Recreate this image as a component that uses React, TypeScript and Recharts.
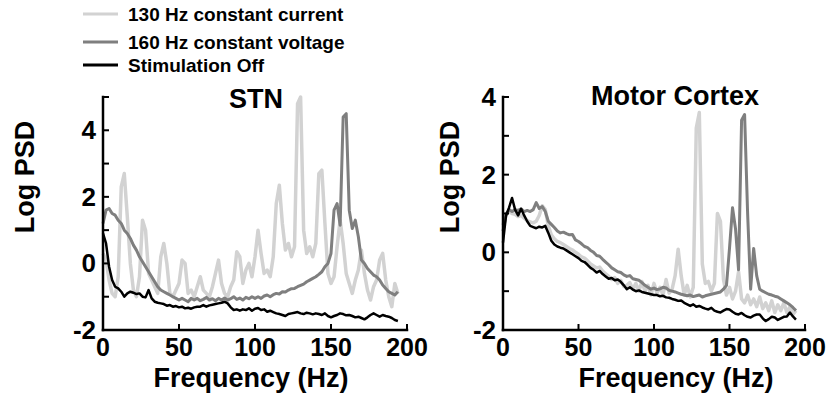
import React from 'react';
import { LineChart, Line, XAxis, YAxis } from 'recharts';

// frequency grid (Hz), shared by both panels
const FREQ = [
  0, 2, 4, 6, 8, 10, 12, 14, 16, 18,
  20, 22, 24, 26, 28, 30, 32, 34, 36, 38,
  40, 42, 44, 46, 48, 50, 52, 54, 56, 58,
  60, 62, 64, 66, 68, 70, 72, 74, 76, 78,
  80, 82, 84, 86, 88, 90, 92, 94, 96, 98,
  100, 102, 104, 106, 108, 110, 112, 114, 116, 118,
  120, 122, 124, 126, 128, 130, 132, 134, 136, 138,
  140, 142, 144, 146, 148, 150, 152, 154, 156, 158,
  160, 162, 164, 166, 168, 170, 172, 174, 176, 178,
  180, 182, 184, 186, 188, 190, 192, 194,
];

// STN log PSD
const STN_CC130 = [
  0.3, 0.1, -0.5, -0.9, -1.0, -0.4, 2.3, 2.7, 1.4, 0.0,
  -0.8, -1.0, -0.4, 1.3, 1.0, -0.3, -0.5, -0.7, -0.9, 0.2,
  0.6, 0.0, -0.9, -1.0, -0.8, -0.6, 0.1, 0.0, -0.9, -0.8,
  -1.0, -0.7, -0.4, -0.8, -0.9, -1.0, -0.7, -0.3, 0.1, -0.6,
  -0.9, -1.0, -0.7, -0.5, 0.35, 0.2, -0.6, -0.2, 0.0, -0.4,
  0.2, 1.0, 0.3, -0.3, -0.2, -0.4, 0.2, 1.8, 2.35, 1.2,
  0.4, 0.6, 0.2, 0.5, 4.8, 5.0, 1.0, 0.3, 0.5, 0.2,
  0.6, 2.7, 2.8, 1.2, -0.3, -0.6, -0.4, 0.5, 1.3, 0.6,
  -0.3, -0.6, -0.9, -0.5, -0.2, 0.4, -0.3, -0.8, -1.1, -0.7,
  -0.5, 0.1, 0.3, -0.5, -1.0, -1.3, -0.6, -0.9,
];
const STN_CV160 = [
  1.2, 1.6, 1.65, 1.5, 1.45, 1.3, 1.2, 1.0, 0.9, 0.75,
  0.55, 0.4, 0.2, 0.05, -0.1, -0.25, -0.4, -0.55, -0.7, -0.8,
  -0.85, -0.9, -0.95, -1.0, -1.05, -1.1, -1.05, -1.1, -1.15, -1.05,
  -1.1, -1.05, -1.12, -1.08, -1.02, -1.1, -1.06, -1.12, -1.05, -1.1,
  -1.04, -1.1, -1.06, -1.0, -1.08, -1.04, -1.1, -1.02, -1.06, -1.0,
  -1.05, -1.0, -1.05, -0.98, -0.95, -1.0, -0.94, -0.9, -0.92, -0.85,
  -0.86, -0.8, -0.76, -0.75, -0.7, -0.66, -0.62, -0.55, -0.5, -0.45,
  -0.4, -0.33, -0.25, -0.1, 0.0, 0.3, 1.6, 1.8, 1.15, 4.4,
  4.5, 1.6, 1.05, 1.3, 0.8, 0.1, 0.0, -0.15, -0.25, -0.35,
  -0.4, -0.5, -0.65, -0.75, -0.85, -0.9, -0.95, -0.85,
];
const STN_OFF = [
  0.9, 0.6, -0.1, -0.5, -0.7, -0.75, -0.85, -1.0, -0.9, -0.85,
  -0.88, -0.92, -0.9, -1.0, -1.02, -0.8, -1.05, -1.15, -1.18, -1.2,
  -1.22, -1.27, -1.25, -1.3, -1.28, -1.32, -1.3, -1.35, -1.33, -1.36,
  -1.32, -1.3, -1.3, -1.25, -1.3, -1.26, -1.24, -1.22, -1.2, -1.18,
  -1.15, -1.2, -1.32, -1.4, -1.38, -1.42, -1.38, -1.4, -1.35, -1.42,
  -1.36, -1.34, -1.4, -1.38, -1.45, -1.42, -1.46, -1.5, -1.52, -1.55,
  -1.58, -1.52, -1.5, -1.48, -1.46, -1.5, -1.52, -1.48, -1.5, -1.53,
  -1.5, -1.52, -1.55, -1.5, -1.58, -1.62, -1.58, -1.55, -1.5, -1.52,
  -1.56, -1.55, -1.58, -1.62, -1.6, -1.64, -1.68, -1.62, -1.55, -1.5,
  -1.55, -1.6, -1.55, -1.58, -1.6, -1.64, -1.7, -1.73,
];

// Motor cortex log PSD
const MC_CC130 = [
  0.7, 1.0, 1.05, 1.0, 0.98, 0.92, 0.95, 0.88, 0.82, 0.78,
  0.76, 0.8, 0.95, 1.2, 1.1, 0.68, 0.45, 0.35, 0.28, 0.25,
  0.2, 0.15, 0.1, 0.06, 0.0, -0.05, -0.12, -0.15, -0.22, -0.3,
  -0.35, -0.4, -0.38, -0.48, -0.55, -0.62, -0.7, -0.65, -0.8, -0.72,
  -0.88, -0.85, -0.78, -0.95, -0.8, -1.0, -0.75, -1.0, -0.85, -1.1,
  -0.8, -1.05, -0.9, -1.1, -0.7, -1.05, -0.95, -0.6, 0.08, -0.6,
  -1.1, -0.85, -1.15, -0.9, 3.2, 3.6, -0.3, -0.8, -0.75, -1.0,
  -0.8, 1.0, 0.8, -0.7, -1.1, -0.9, -1.2, -1.0, -0.5, -1.2,
  -1.3, -1.1, -1.35, -1.2, -1.4, -1.15, -1.45, -1.3, -1.5, -1.25,
  -1.55, -1.35, -1.5, -1.3, -1.55, -1.4, -1.6, -1.5,
];
const MC_CV160 = [
  0.55, 0.95, 1.1, 1.05, 1.1, 1.08, 1.12, 1.05, 1.08, 1.05,
  1.1, 1.28, 1.13, 1.18, 1.05, 0.8, 0.72, 0.64, 0.55, 0.5,
  0.52, 0.48, 0.45, 0.46, 0.32, 0.28, 0.22, 0.15, 0.12, 0.05,
  0.0, -0.08, -0.1, -0.18, -0.25, -0.32, -0.4, -0.45, -0.5, -0.52,
  -0.58, -0.62, -0.6, -0.68, -0.7, -0.72, -0.78, -0.85, -0.9, -0.95,
  -0.92, -0.96, -0.94, -0.9, -0.92, -0.98, -1.0, -1.02, -1.05, -1.08,
  -1.1, -1.12, -1.1, -1.14, -1.12, -1.1, -1.15, -1.12, -1.1, -1.08,
  -1.06, -1.04, -1.02, -0.95, -0.85, 0.1, 1.15, 0.6, -0.45, 3.4,
  3.55, 1.0, -0.95, 0.1, -0.6, -0.95, -1.0, -1.04, -1.08, -1.1,
  -1.13, -1.15, -1.2, -1.25, -1.3, -1.35, -1.42, -1.5,
];
const MC_OFF = [
  0.25, 0.95, 1.15, 1.4, 1.1, 0.95, 1.12, 0.95, 0.8, 0.68,
  0.65, 0.62, 0.66, 0.64, 0.68, 0.5, 0.3, 0.2, 0.15, 0.12,
  0.1, 0.05, 0.0, -0.05, -0.1, -0.15, -0.22, -0.25, -0.32, -0.4,
  -0.45, -0.52, -0.48, -0.56, -0.62, -0.68, -0.66, -0.72, -0.7, -0.76,
  -0.85, -0.95, -0.9, -0.96, -1.0, -0.98, -1.02, -1.04, -1.06, -1.08,
  -1.1, -1.1, -1.13, -1.12, -1.16, -1.17, -1.2, -1.22, -1.25, -1.24,
  -1.3, -1.34, -1.38, -1.34, -1.4, -1.38, -1.42, -1.45, -1.47, -1.43,
  -1.5, -1.53, -1.55, -1.5, -1.46, -1.47, -1.53, -1.58, -1.6, -1.56,
  -1.62, -1.66, -1.68, -1.63, -1.6, -1.6, -1.7, -1.77, -1.72, -1.66,
  -1.68, -1.74, -1.7, -1.66, -1.65, -1.55, -1.65, -1.73,
];

const X_TICKS = [0, 50, 100, 150, 200];
const STN_Y_TICKS = [-2, -1, 0, 1, 2, 3, 4, 5];
const STN_Y_LABELS = [-2, 0, 2, 4];
const MC_Y_TICKS = [-2, -1, 0, 1, 2, 3, 4];
const MC_Y_LABELS = [-2, 0, 2, 4];

const SERIES = [
  { key: 'cc', name: '130 Hz constant current', color: '#d2d2d2', width: 3.5 },
  { key: 'cv', name: '160 Hz constant voltage', color: '#7f7f7f', width: 3 },
  { key: 'off', name: 'Stimulation Off', color: '#000000', width: 2.5 },
];

const FONT = '"Liberation Sans", Arial, Helvetica, sans-serif';

const stnRows = FREQ.map((f, i) => ({ f, cc: STN_CC130[i], cv: STN_CV160[i], off: STN_OFF[i] }));
const mcRows = FREQ.map((f, i) => ({ f, cc: MC_CC130[i], cv: MC_CV160[i], off: MC_OFF[i] }));

const YTick = (props: any) => {
  const { x, y, payload, labelled } = props;
  return (
    <g>
      <line x1={x} x2={x + 6} y1={y} y2={y} stroke="#000" strokeWidth={2} />
      {labelled.includes(payload.value) && (
        <text x={x - 7} y={y + 9} textAnchor="end" fontSize={26} fontWeight="bold" fontFamily={FONT} fill="#000">
          {payload.value}
        </text>
      )}
    </g>
  );
};

const XTick = (props: any) => {
  const { x, y, payload } = props;
  return (
    <g>
      {payload.value !== 0 && <line x1={x} x2={x} y1={y} y2={y - 6} stroke="#000" strokeWidth={2} />}
      <text x={x} y={y + 26} textAnchor="middle" fontSize={25} fontWeight="bold" fontFamily={FONT} fill="#000">
        {payload.value}
      </text>
    </g>
  );
};

type PanelProps = {
  rows: any[];
  width: number;
  yAxisWidth: number;
  marginRight: number;
  yDomain: [number, number];
  yTicks: number[];
  yLabels: number[];
};

const axisLine = { stroke: '#000', strokeWidth: 2.5, strokeLinecap: 'square' as const };

const Panel = ({ rows, width, yAxisWidth, marginRight, yDomain, yTicks, yLabels }: PanelProps) => (
  <LineChart width={width} height={398} data={rows} margin={{ top: 97, right: marginRight, bottom: 0, left: 0 }}>
    <XAxis
      type="number"
      dataKey="f"
      domain={[0, 200]}
      ticks={X_TICKS}
      interval={0}
      height={68}
      axisLine={axisLine}
      tickLine={false}
      tickSize={0}
      tickMargin={0}
      tick={XTick}
    />
    <YAxis
      type="number"
      domain={yDomain}
      ticks={yTicks}
      interval={0}
      width={yAxisWidth}
      axisLine={axisLine}
      tickLine={false}
      tickSize={0}
      tickMargin={0}
      tick={(p: any) => <YTick {...p} labelled={yLabels} />}
    />
    {SERIES.map((s) => (
      <Line
        key={s.key}
        type="linear"
        dataKey={s.key}
        name={s.name}
        stroke={s.color}
        strokeWidth={s.width}
        strokeLinejoin="round"
        dot={false}
        activeDot={false}
        isAnimationActive={false}
      />
    ))}
  </LineChart>
);

const bold = { fontFamily: FONT, fontWeight: 'bold' as const, fill: '#000' };

export default function App() {
  return (
    <div style={{ position: 'absolute', left: 0, top: 0, width: 833, height: 398, background: '#fff', overflow: 'hidden' }}>
      <div style={{ position: 'absolute', left: 0, top: 0 }}>
        <Panel rows={stnRows} width={440} yAxisWidth={103} marginRight={33} yDomain={[-2, 5]} yTicks={STN_Y_TICKS} yLabels={STN_Y_LABELS} />
      </div>
      <div style={{ position: 'absolute', left: 420, top: 0 }}>
        <Panel rows={mcRows} width={413} yAxisWidth={83} marginRight={28} yDomain={[-2, 4]} yTicks={MC_Y_TICKS} yLabels={MC_Y_LABELS} />
      </div>
      <svg width={833} height={398} style={{ position: 'absolute', left: 0, top: 0, pointerEvents: 'none' }}>
        {/* legend */}
        {SERIES.map((s, i) => {
          const ly = [14, 42, 65][i];
          return (
            <g key={s.key}>
              <line x1={83} x2={118} y1={ly} y2={ly} stroke={s.color} strokeWidth={3} />
              <text x={128} y={ly + 7} fontSize={19} {...bold}>{s.name}</text>
            </g>
          );
        })}
        {/* titles */}
        <text x={256} y={108} fontSize={27} textAnchor="middle" {...bold}>STN</text>
        <text x={675} y={105} fontSize={27} textAnchor="middle" {...bold}>Motor Cortex</text>
        {/* y labels */}
        <text transform="translate(34,177) rotate(-90)" fontSize={27} textAnchor="middle" {...bold}>Log PSD</text>
        <text transform="translate(459,177) rotate(-90)" fontSize={27} textAnchor="middle" {...bold}>Log PSD</text>
        {/* x labels */}
        <text x={251} y={387} fontSize={27} textAnchor="middle" {...bold}>Frequency (Hz)</text>
        <text x={676} y={387} fontSize={27} textAnchor="middle" {...bold}>Frequency (Hz)</text>
      </svg>
    </div>
  );
}
